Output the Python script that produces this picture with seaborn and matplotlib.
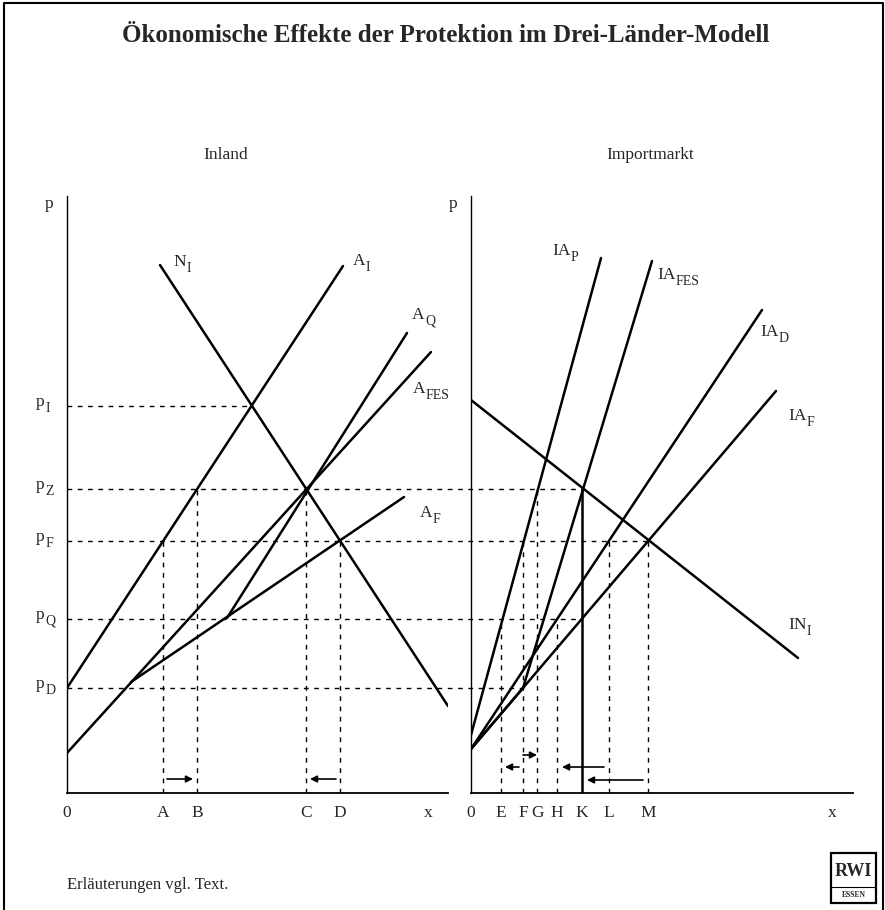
import numpy as np
import pandas as pd
import matplotlib
matplotlib.use('Agg')
import matplotlib.pyplot as plt
from matplotlib.lines import Line2D
from matplotlib.patches import Rectangle
import seaborn as sns

# === Preisniveaus (gemeinsame p-Achse) ===
p_I, p_Z, p_F, p_Q, p_D = 38.7, 30.4, 25.2, 17.4, 10.5

# === Inland: Kurven ===
ni_x, ni_p = [9.3, 38.1], [52.8, 8.7]
ai_x, ai_p = [0.0, 27.6], [p_D, 52.7]
afes_x, afes_p = [0.0, 36.4], [4.0, 44.1]
af_x, af_p = [6.4, 33.7], [11.1, 29.6]
aq_x, aq_p = [16.0, 34.0], [17.5, 46.0]

inland_ticks = ['0', 'A', 'B', 'C', 'D']
inland_x = [0.0, 9.6, 13.0, 23.9, 27.3]
inland_vtop = [None, p_F, p_Z, p_Z, p_F]

# === Importmarkt: Kurven ===
ini_x, ini_p = [0.0, 32.7], [39.3, 13.5]
iap_x, iap_p = [0.0, 13.0], [5.8, 53.5]
iafes_x, iafes_p = [0.0, 5.2, 18.1], [4.4, p_D, 53.2]
iad_x, iad_p = [0.0, 29.1], [4.4, 48.3]
iaf_x, iaf_p = [0.0, 30.5], [4.4, 40.2]
k_x, k_p = [11.1, 11.1], [0.0, p_Z]

import_ticks = ['0', 'E', 'F', 'G', 'H', 'K', 'L', 'M']
import_x = [0.0, 3.0, 5.2, 6.6, 8.6, 11.1, 13.8, 17.7]
import_vtop = [None, p_Q, p_F, p_Z, p_Q, None, p_F, p_F]

# horizontale Hilfslinien: Niveau -> Endpunkt (links: Inland, sonst Importmarkt)
h_levels = [p_I, p_Z, p_F, p_Q, p_D]
h_names = ['I', 'Z', 'F', 'Q', 'D']
h_end_x = [18.5, 11.1, 17.7, 11.1, 5.2]
h_end_panel = ['inland', 'import', 'import', 'import', 'import']

# Pfeile (Verschiebungen)
inland_arr_tail, inland_arr_head, inland_arr_p = [10.0, 26.9], [12.6, 24.3], [1.4, 1.4]
import_arr_tail = [5.2, 4.8, 13.3, 17.2]
import_arr_head = [6.6, 3.4, 9.1, 11.6]
import_arr_p = [3.8, 2.6, 2.6, 1.3]


def long_df(curves):
    rows = []
    for name, xs, ps in curves:
        for x, p in zip(xs, ps):
            rows.append((name, x, p))
    return pd.DataFrame(rows, columns=['kurve', 'x', 'p'])


df_inland = long_df([('N_I', ni_x, ni_p), ('A_I', ai_x, ai_p), ('A_FES', afes_x, afes_p),
                     ('A_F', af_x, af_p), ('A_Q', aq_x, aq_p)])
df_import = long_df([('IN_I', ini_x, ini_p), ('IA_P', iap_x, iap_p), ('IA_FES', iafes_x, iafes_p),
                     ('IA_D', iad_x, iad_p), ('IA_F', iaf_x, iaf_p), ('K', k_x, k_p)])

# === Style ===
sns.set_style('white')
plt.rcParams['font.family'] = ['Liberation Serif', 'DejaVu Serif']
plt.rcParams['lines.scale_dashes'] = False

W, H = 885, 910
fig = plt.figure(figsize=(W / 100, H / 100), dpi=100)
fig.patch.set_facecolor('white')

ax_l = fig.add_axes([67 / W, (H - 793) / H, 381 / W, 597 / H])
ax_r = fig.add_axes([471 / W, (H - 793) / H, 382 / W, 597 / H])
for ax in (ax_l, ax_r):
    ax.set_xlim(0, 38.1 if ax is ax_l else 38.2)
    ax.set_ylim(0, 59.7)
    ax.set_facecolor('none')
    ax.set_xticks([])
    ax.set_yticks([])
    for s in ('top', 'right'):
        ax.spines[s].set_visible(False)
    ax.spines['left'].set_linewidth(1.0)
    ax.spines['bottom'].set_linewidth(1.3)
    ax.spines['left'].set_color('black')
    ax.spines['bottom'].set_color('black')

LW = 1.8
DASH = dict(color='black', lw=1.0, linestyle=(0, (3.4, 4.0)), zorder=1)
FS = 12.5


def label(ax, x, y, main, sub=None, ha='left'):
    # Haupttext plus tiefgestellter Index als eigener Text
    t = ax.text(x, y, main, ha=ha, va='center', fontsize=FS)
    if sub:
        ax.annotate(sub, xy=(1, 0.1), xycoords=t, xytext=(0.3, 0), textcoords='offset points',
                    ha='left', va='center', fontsize=FS * 0.8)
    return t


# Kurven
sns.lineplot(data=df_inland, x='x', y='p', units='kurve', estimator=None, sort=False,
             color='black', lw=LW, ax=ax_l, legend=False, zorder=3)
sns.lineplot(data=df_import, x='x', y='p', units='kurve', estimator=None, sort=False,
             color='black', lw=LW, ax=ax_r, legend=False, zorder=3)
for ax in (ax_l, ax_r):
    ax.set_xlabel('')
    ax.set_ylabel('')

# horizontale Hilfslinien (teils über beide Felder)
for lev, xe, pan in zip(h_levels, h_end_x, h_end_panel):
    if pan == 'import':
        disp = ax_r.transData.transform((xe, lev))
        xe = ax_l.transData.inverted().transform(disp)[0]
    ax_l.plot([0, xe], [lev, lev], clip_on=False, **DASH)

# vertikale Hilfslinien
for x, top in zip(inland_x, inland_vtop):
    if top is not None:
        ax_l.plot([x, x], [0, top], **DASH)
for x, top in zip(import_x, import_vtop):
    if top is not None:
        ax_r.plot([x, x], [0, top], **DASH)

# Pfeile
ARR = dict(arrowstyle='-|>', color='black', lw=1.2, mutation_scale=10, shrinkA=0, shrinkB=0)
for t, h, p in zip(inland_arr_tail, inland_arr_head, inland_arr_p):
    ax_l.annotate('', xy=(h, p), xytext=(t, p), arrowprops=ARR)
for t, h, p in zip(import_arr_tail, import_arr_head, import_arr_p):
    ax_r.annotate('', xy=(h, p), xytext=(t, p), arrowprops=ARR)

# Achsenbeschriftungen
for lab, x in zip(inland_ticks, inland_x):
    ax_l.text(x, -2.0, lab, ha='center', va='center', fontsize=FS)
for lab, x in zip(import_ticks, import_x):
    ax_r.text(x, -2.0, lab, ha='center', va='center', fontsize=FS)
ax_l.text(36.1, -2.0, 'x', ha='center', va='center', fontsize=FS)
ax_r.text(36.1, -2.0, 'x', ha='center', va='center', fontsize=FS)
ax_l.text(-1.8, 58.9, 'p', ha='center', va='center', fontsize=FS)
ax_r.text(-1.8, 58.9, 'p', ha='center', va='center', fontsize=FS)

for nm, lev in zip(h_names, h_levels):
    label(ax_l, -3.1, lev + 0.4, 'p', nm)

# Kurvenbeschriftungen
label(ax_l, 10.6, 53.1, 'N', 'I')
label(ax_l, 28.6, 53.2, 'A', 'I')
label(ax_l, 34.5, 47.8, 'A', 'Q')
label(ax_l, 34.6, 40.4, 'A', 'FES')
label(ax_l, 35.3, 28.0, 'A', 'F')

label(ax_r, 8.1, 54.2, 'IA', 'P')
label(ax_r, 18.6, 51.8, 'IA', 'FES')
label(ax_r, 28.9, 46.1, 'IA', 'D')
label(ax_r, 31.7, 37.7, 'IA', 'F')
label(ax_r, 31.7, 16.8, 'IN', 'I')

# Titel, Feldtitel, Fußnote
fig.text(446 / W, 1 - 35 / H, 'Ökonomische Effekte der Protektion im Drei-Länder-Modell',
         ha='center', va='center', fontsize=18, fontweight='bold')
fig.text(226 / W, 1 - 155 / H, 'Inland', ha='center', va='center', fontsize=FS)
fig.text(650 / W, 1 - 155 / H, 'Importmarkt', ha='center', va='center', fontsize=FS)
fig.text(67 / W, 1 - 885 / H, 'Erläuterungen vgl. Text.', ha='left', va='center', fontsize=12)

# Rahmen
fig.add_artist(Line2D([4 / W, 4 / W, 883 / W, 883 / W], [0, 1 - 3 / H, 1 - 3 / H, 0],
                      color='black', lw=1.5, transform=fig.transFigure))

# RWI-Logo
fig.add_artist(Rectangle((831 / W, 1 - 903 / H), 45 / W, 50 / H, transform=fig.transFigure,
                         fill=False, edgecolor='black', lw=1.6))
fig.add_artist(Line2D([831 / W, 876 / W], [1 - 887 / H, 1 - 887 / H], color='black', lw=0.8,
                      transform=fig.transFigure))
fig.text(853.5 / W, 1 - 871 / H, 'RWI', ha='center', va='center', fontsize=13, fontweight='bold')
fig.text(853.5 / W, 1 - 895 / H, 'ESSEN', ha='center', va='center', fontsize=5.5, fontweight='bold')

fig.savefig('out.png', dpi=100, facecolor='white')
